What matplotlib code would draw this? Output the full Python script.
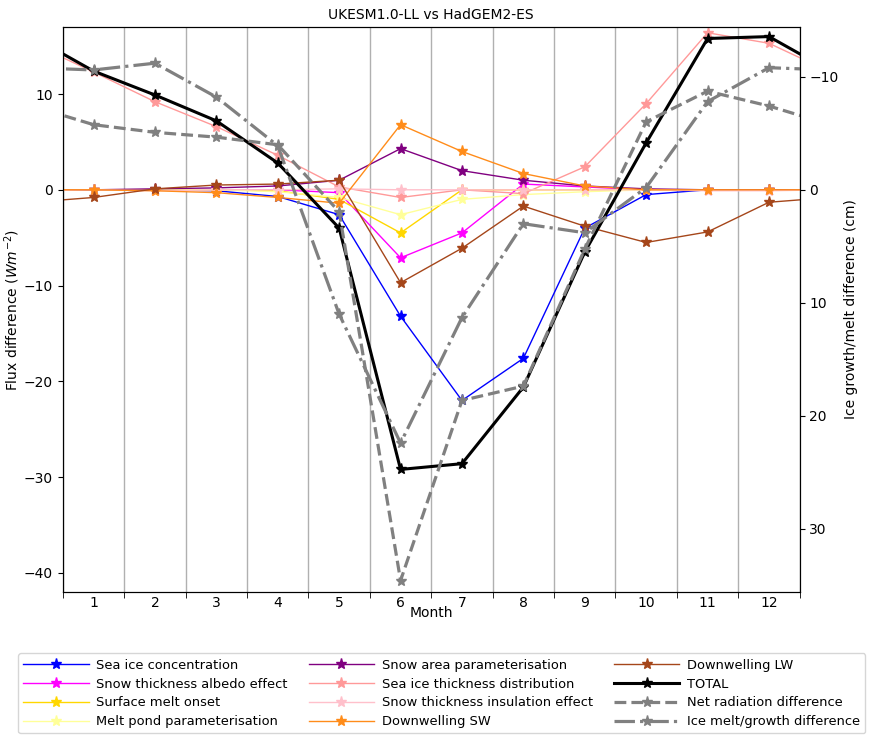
import numpy as np
import matplotlib
matplotlib.use("Agg")
import matplotlib.pyplot as plt

months = np.arange(1, 13)

# flux differences (W m-2), Jan..Dec
sea_ice_conc = [0.0, 0.0, -0.1, -0.7, -2.6, -13.2, -22.0, -17.6, -4.0, -0.5, 0.0, 0.0]
snow_albedo = [0.0, 0.0, 0.0, 0.0, -0.3, -7.1, -4.5, 0.6, 0.3, 0.0, 0.0, 0.0]
melt_onset = [0.0, 0.0, 0.0, -0.1, -1.0, -4.5, 0.0, 0.0, 0.0, 0.0, 0.0, 0.0]
melt_pond = [0.0, 0.0, 0.0, -0.2, -0.8, -2.6, -1.0, -0.5, -0.2, 0.0, 0.0, 0.0]
snow_area = [0.0, 0.1, 0.2, 0.4, 1.0, 4.3, 2.0, 1.0, 0.4, 0.1, 0.0, 0.0]
ice_thick = [12.3, 9.2, 6.6, 3.6, 0.3, -0.8, 0.0, -0.4, 2.4, 9.0, 16.4, 15.3]
snow_insul = [0.0, -0.1, 0.0, 0.0, 0.1, 0.0, 0.0, 0.0, 0.0, 0.0, -0.1, -0.1]
down_sw = [0.0, -0.1, -0.3, -0.8, -1.4, 6.8, 4.0, 1.7, 0.4, 0.0, 0.0, 0.0]
down_lw = [-0.8, 0.1, 0.5, 0.6, 1.0, -9.7, -6.1, -1.7, -3.8, -5.5, -4.4, -1.3]
total = [12.4, 9.9, 7.2, 2.8, -4.0, -29.2, -28.6, -20.6, -6.5, 4.9, 15.8, 16.0]
net_rad = [6.8, 6.0, 5.5, 4.7, -2.3, -40.8, -22.0, -20.5, -6.2, 7.1, 10.3, 8.75]
# ice melt/growth difference (cm)
ice_melt = [-10.6, -11.2, -8.2, -3.9, 11.0, 22.4, 11.3, 3.0, 3.8, -0.2, -7.8, -10.8]

flux_to_cm = 0.847


def wrap(v):
    # Dec before Jan and Jan after Dec so the cycle runs to the edges
    return [v[-1]] + list(v) + [v[0]]


xw = np.arange(0, 14)

fig, ax = plt.subplots(figsize=(8.73, 7.4), dpi=100)
fig.subplots_adjust(left=0.072, right=0.916, top=0.9635, bottom=0.2)
ax2 = ax.twinx()

thin = dict(marker="*", markersize=8, lw=1)
series = [
    (sea_ice_conc, "blue", "Sea ice concentration"),
    (snow_albedo, "magenta", "Snow thickness albedo effect"),
    (melt_onset, "gold", "Surface melt onset"),
    (melt_pond, "#ffff99", "Melt pond parameterisation"),
    (snow_area, "purple", "Snow area parameterisation"),
    (ice_thick, "#ff9999", "Sea ice thickness distribution"),
    (snow_insul, "pink", "Snow thickness insulation effect"),
    (down_sw, "#ff8c1a", "Downwelling SW"),
    (down_lw, "#a5461a", "Downwelling LW"),
]
handles = []
for vals, col, lab in series:
    h, = ax.plot(xw, wrap(vals), color=col, label=lab, **thin)
    handles.append(h)

h, = ax.plot(xw, wrap(total), color="black", lw=2.2, marker="*", markersize=8, label="TOTAL")
handles.append(h)
h, = ax.plot(xw, wrap(net_rad), color="gray", lw=2.3, ls="--", marker="*", markersize=8,
             label="Net radiation difference")
handles.append(h)
h, = ax2.plot(xw, wrap(ice_melt), color="gray", lw=2.3, ls="-.", marker="*", markersize=8,
              label="Ice melt/growth difference")
handles.append(h)

ylo, yhi = -42, 17
ax.set_ylim(ylo, yhi)
ax2.set_ylim(-ylo * flux_to_cm, -yhi * flux_to_cm)
ax.set_xlim(0.5, 12.5)
ax.set_xticks(months)
ax.set_xticks(np.arange(0.5, 13, 1), minor=True)
ax.tick_params(axis="x", which="major", length=0, pad=3)
ax.tick_params(axis="x", which="minor", length=4)
ax.grid(True, which="minor", axis="x", color="#b0b0b0", lw=1)
ax.set_yticks([-40, -30, -20, -10, 0, 10])
ax2.set_yticks([-10, 0, 10, 20, 30])

ax.set_title("UKESM1.0-LL vs HadGEM2-ES", fontsize=10)
ax.set_xlabel("Month", labelpad=-3)
ax.set_ylabel("Flux difference ($Wm^{-2}$)", labelpad=1)
ax2.set_ylabel("Ice growth/melt difference (cm)")

fig.legend(handles=handles, loc="lower center", ncol=3, fontsize=9.4,
           bbox_to_anchor=(0.506, 0.0), columnspacing=1.6, handlelength=5,
           handletextpad=0.6, labelspacing=0.45)

fig.savefig("out.png", dpi=100)
